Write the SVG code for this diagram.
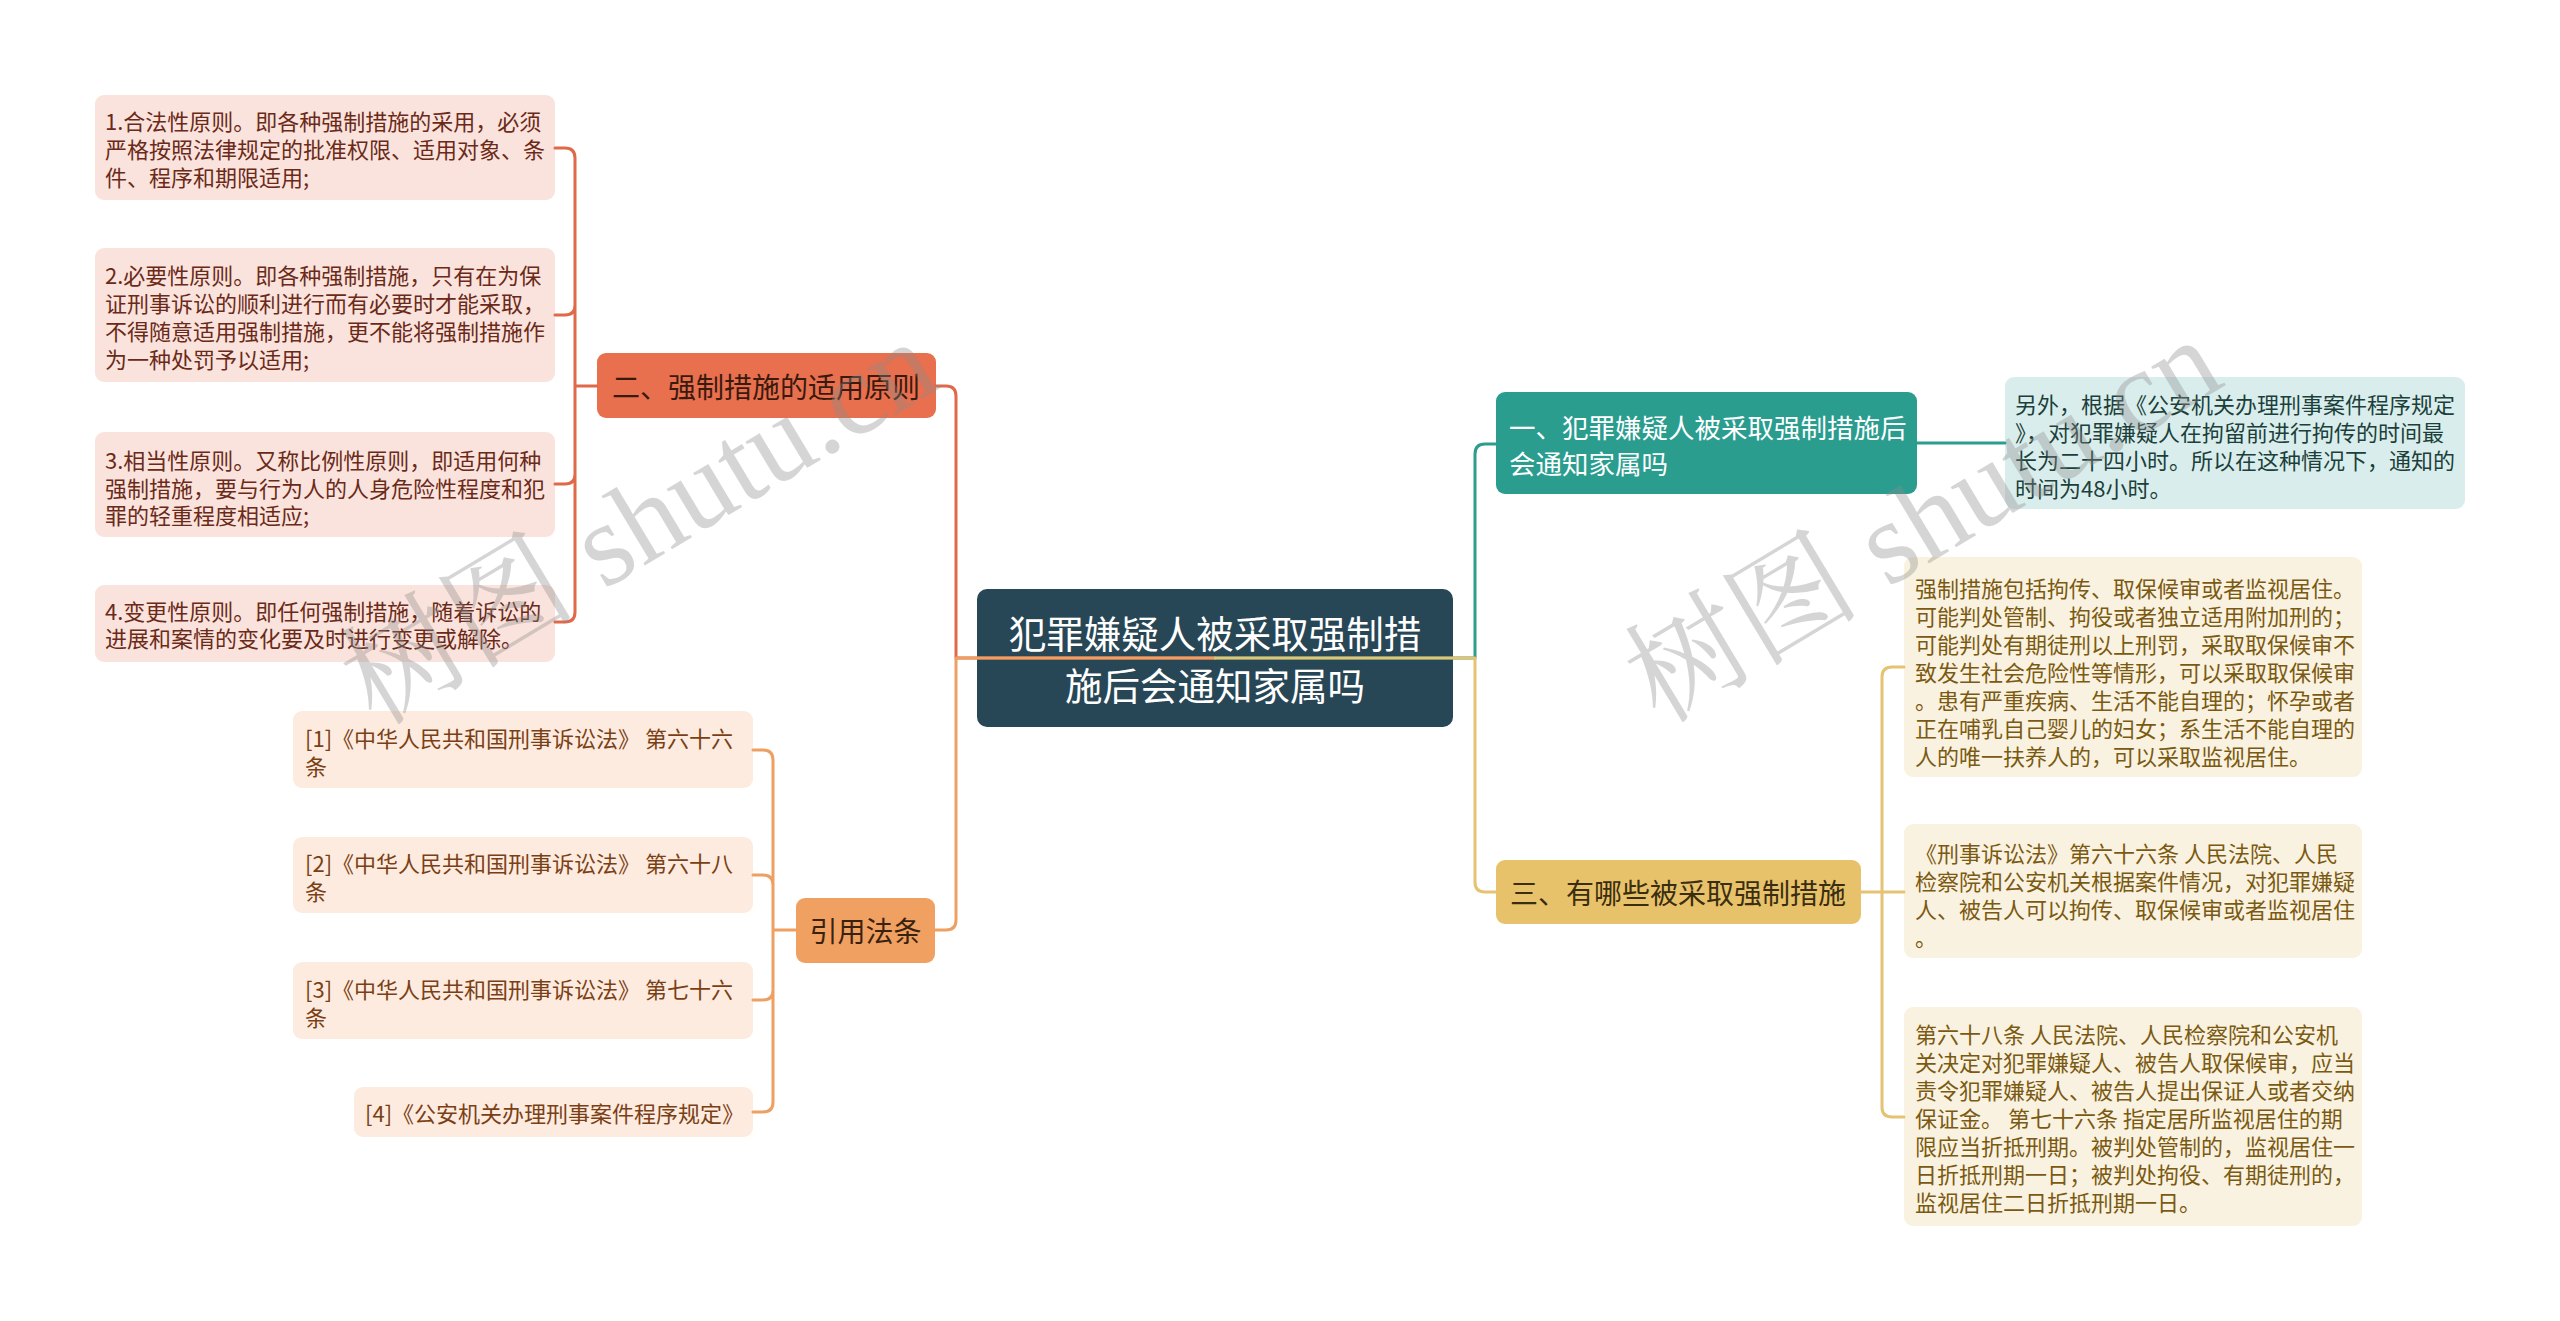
<svg xmlns="http://www.w3.org/2000/svg" width="2560" height="1321" viewBox="0 0 2560 1321">
<style>
text{font-family:"Noto Sans CJK SC","Noto Sans",sans-serif;dominant-baseline:central}
.b{font-size:22px}
.t{font-size:28px}
.c{fill:none;stroke-width:3;stroke-linecap:round;stroke-linejoin:round}
.wm{font-family:"Liberation Serif","Noto Serif CJK SC","Noto Sans CJK SC",serif;font-size:118px;fill:#8a8a8a;opacity:0.35;dominant-baseline:auto}
</style>
<rect width="2560" height="1321" fill="#ffffff"/>

<g id="root">
<rect x="977" y="589" width="476" height="138" rx="10" fill="#284756"/>
<text x="1215" y="631" font-size="37.5" fill="#ffffff" text-anchor="middle">犯罪嫌疑人被采取强制措</text>
<text x="1215" y="683" font-size="37.5" fill="#ffffff" text-anchor="middle">施后会通知家属吗</text>
</g>

<g id="n2">
<rect x="597" y="353" width="339" height="65" rx="9" fill="#e8704f"/>
<text class="t" x="612" y="386" fill="#3b1a0e">二、强制措施的适用原则</text>
</g>
<g id="n2-1">
<rect x="95" y="95" width="460" height="105" rx="9" fill="#fae3dd"/>
<text class="b" fill="#6b2a18"><tspan x="105" y="120">1.合法性原则。即各种强制措施的采用，必须</tspan><tspan x="105" y="148">严格按照法律规定的批准权限、适用对象、条</tspan><tspan x="105" y="176">件、程序和期限适用;</tspan></text>
</g>
<g id="n2-2">
<rect x="95" y="248" width="460" height="134" rx="9" fill="#fae3dd"/>
<text class="b" fill="#6b2a18"><tspan x="105" y="274">2.必要性原则。即各种强制措施，只有在为保</tspan><tspan x="105" y="302">证刑事诉讼的顺利进行而有必要时才能采取，</tspan><tspan x="105" y="330">不得随意适用强制措施，更不能将强制措施作</tspan><tspan x="105" y="358">为一种处罚予以适用;</tspan></text>
</g>
<g id="n2-3">
<rect x="95" y="432" width="460" height="105" rx="9" fill="#fae3dd"/>
<text class="b" fill="#6b2a18"><tspan x="105" y="459">3.相当性原则。又称比例性原则，即适用何种</tspan><tspan x="105" y="487">强制措施，要与行为人的人身危险性程度和犯</tspan><tspan x="105" y="514">罪的轻重程度相适应;</tspan></text>
</g>
<g id="n2-4">
<rect x="95" y="585" width="460" height="77" rx="9" fill="#fae3dd"/>
<text class="b" fill="#6b2a18"><tspan x="105" y="610">4.变更性原则。即任何强制措施，随着诉讼的</tspan><tspan x="105" y="637">进展和案情的变化要及时进行变更或解除。</tspan></text>
</g>

<g id="n4">
<rect x="796" y="898" width="139" height="65" rx="9" fill="#f0a060"/>
<text class="t" x="865.5" y="930" fill="#3b2210" text-anchor="middle">引用法条</text>
</g>
<g id="n4-1">
<rect x="293" y="711" width="460" height="77" rx="9" fill="#fdebdf"/>
<text class="b" fill="#7a4015"><tspan x="305" y="737">[1]《中华人民共和国刑事诉讼法》 第六十六</tspan><tspan x="305" y="765">条</tspan></text>
</g>
<g id="n4-2">
<rect x="293" y="837" width="460" height="76" rx="9" fill="#fdebdf"/>
<text class="b" fill="#7a4015"><tspan x="305" y="862">[2]《中华人民共和国刑事诉讼法》 第六十八</tspan><tspan x="305" y="890">条</tspan></text>
</g>
<g id="n4-3">
<rect x="293" y="962" width="460" height="77" rx="9" fill="#fdebdf"/>
<text class="b" fill="#7a4015"><tspan x="305" y="988">[3]《中华人民共和国刑事诉讼法》 第七十六</tspan><tspan x="305" y="1016">条</tspan></text>
</g>
<g id="n4-4">
<rect x="354" y="1087" width="399" height="50" rx="9" fill="#fdebdf"/>
<text class="b" x="365" y="1112" fill="#7a4015">[4]《公安机关办理刑事案件程序规定》</text>
</g>

<g id="n1">
<rect x="1496" y="392" width="421" height="102" rx="9" fill="#2a9d8f"/>
<text font-size="26.5" fill="#ffffff"><tspan x="1509" y="426">一、犯罪嫌疑人被采取强制措施后</tspan><tspan x="1509" y="462">会通知家属吗</tspan></text>
</g>
<g id="n1-1">
<rect x="2005" y="377" width="460" height="132" rx="9" fill="#d9eeec"/>
<text class="b" fill="#1c3f3b"><tspan x="2015" y="403">另外，根据《公安机关办理刑事案件程序规定</tspan><tspan x="2015" y="431">》，对犯罪嫌疑人在拘留前进行拘传的时间最</tspan><tspan x="2015" y="459">长为二十四小时。所以在这种情况下，通知的</tspan><tspan x="2015" y="487">时间为48小时。</tspan></text>
</g>

<g id="n3">
<rect x="1496" y="860" width="365" height="64" rx="9" fill="#e8c26a"/>
<text class="t" x="1510" y="892" fill="#3b2e10">三、有哪些被采取强制措施</text>
</g>
<g id="n3-1">
<rect x="1904" y="557" width="458" height="220" rx="9" fill="#faf2e0"/>
<text class="b" fill="#7a5a12"><tspan x="1915" y="587">强制措施包括拘传、取保候审或者监视居住。</tspan><tspan x="1915" y="615">可能判处管制、拘役或者独立适用附加刑的；</tspan><tspan x="1915" y="643">可能判处有期徒刑以上刑罚，采取取保候审不</tspan><tspan x="1915" y="671">致发生社会危险性等情形，可以采取取保候审</tspan><tspan x="1915" y="699">。患有严重疾病、生活不能自理的；怀孕或者</tspan><tspan x="1915" y="727">正在哺乳自己婴儿的妇女；系生活不能自理的</tspan><tspan x="1915" y="755">人的唯一扶养人的，可以采取监视居住。</tspan></text>
</g>
<g id="n3-2">
<rect x="1904" y="824" width="458" height="134" rx="9" fill="#faf2e0"/>
<text class="b" fill="#7a5a12"><tspan x="1915" y="852">《刑事诉讼法》第六十六条 人民法院、人民</tspan><tspan x="1915" y="880">检察院和公安机关根据案件情况，对犯罪嫌疑</tspan><tspan x="1915" y="908">人、被告人可以拘传、取保候审或者监视居住</tspan><tspan x="1915" y="936">。</tspan></text>
</g>
<g id="n3-3">
<rect x="1904" y="1007" width="458" height="219" rx="9" fill="#faf2e0"/>
<text class="b" fill="#7a5a12"><tspan x="1915" y="1033">第六十八条 人民法院、人民检察院和公安机</tspan><tspan x="1915" y="1061">关决定对犯罪嫌疑人、被告人取保候审，应当</tspan><tspan x="1915" y="1089">责令犯罪嫌疑人、被告人提出保证人或者交纳</tspan><tspan x="1915" y="1117">保证金。 第七十六条 指定居所监视居住的期</tspan><tspan x="1915" y="1145">限应当折抵刑期。被判处管制的，监视居住一</tspan><tspan x="1915" y="1173">日折抵刑期一日；被判处拘役、有期徒刑的，</tspan><tspan x="1915" y="1201">监视居住二日折抵刑期一日。</tspan></text>
</g>

<g id="connectors">
<path class="c" stroke="#e0694a" d="M936,386 H946 Q956,386 956,396 V658 H1215"/>
<path class="c" stroke="#eda062" d="M1215,658 H956 V920 Q956,930 946,930 H935"/>
<path class="c" stroke="#2a9d8f" d="M1215,658 H1475 V454 Q1475,444 1485,444 H1496"/>
<path class="c" stroke="#e6c372" d="M1215,658 H1475 V882 Q1475,892 1485,892 H1496"/>
<path class="c" stroke="#e0694a" d="M597,386 H575 V158 Q575,148 565,148 H555 M575,386 V305 Q575,315 565,315 H555 M575,300 V325 M575,386 V474 Q575,484 565,484 H555 M575,470 V612 Q575,622 565,622 H555"/>
<path class="c" stroke="#eda062" d="M796,930 H773 V760 Q773,750 763,750 H753 M773,930 V885 Q773,875 763,875 H753 M773,930 V990 Q773,1000 763,1000 H753 M773,990 V1102 Q773,1112 763,1112 H753"/>
<path class="c" stroke="#2a9d8f" d="M1917,443 H2005"/>
<path class="c" stroke="#e6c372" d="M1861,892 H1882 V677 Q1882,667 1892,667 H1904 M1861,892 H1904 M1882,892 V1107 Q1882,1117 1892,1117 H1904"/>
</g>

<g id="watermark">
<text class="wm" transform="translate(640 524) rotate(-31)" text-anchor="middle" y="38">树图 shutu.cn</text>
<text class="wm" transform="translate(1924 522) rotate(-31)" text-anchor="middle" y="38">树图 shutu.cn</text>
</g>
</svg>
